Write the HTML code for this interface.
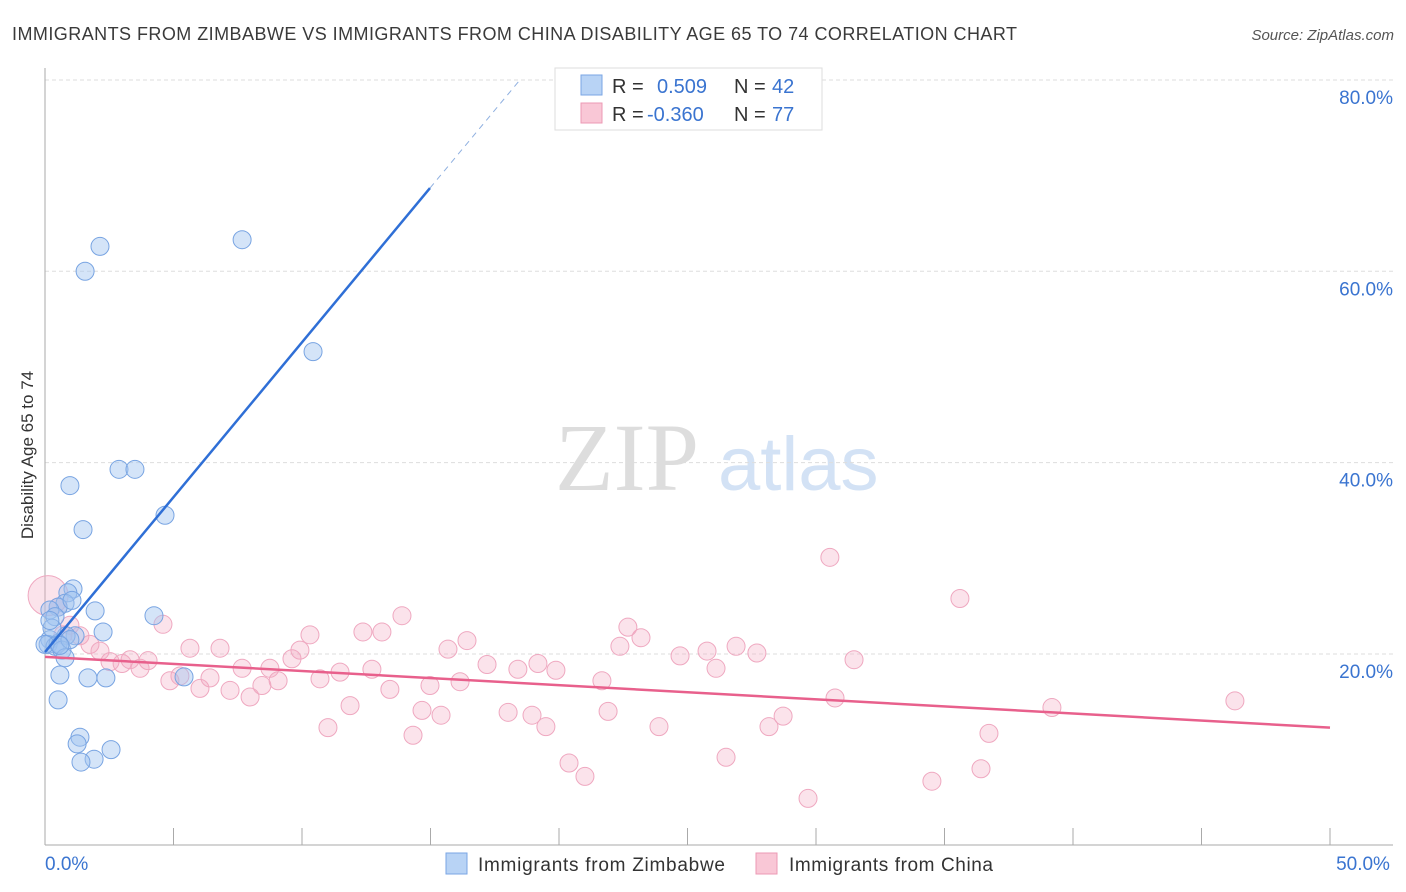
<!DOCTYPE html>
<html><head><meta charset="utf-8"><style>
body{margin:0;background:#fff;font-family:"Liberation Sans",sans-serif;}
#wrap{position:relative;width:1406px;height:892px;overflow:hidden}
</style></head><body>
<div id="wrap">
<svg id="chart" width="1406" height="892" xmlns="http://www.w3.org/2000/svg">
<text x="12" y="40" font-size="18" fill="#3a3a3a" textLength="1005">IMMIGRANTS FROM ZIMBABWE VS IMMIGRANTS FROM CHINA DISABILITY AGE 65 TO 74 CORRELATION CHART</text>
<text x="1394" y="40" font-size="15" fill="#555" font-style="italic" text-anchor="end">Source: ZipAtlas.com</text>
<g>
<text x="555" y="490" font-size="96" fill="#ddd" font-family="Liberation Serif,serif">ZIP</text>
<text x="718" y="490" font-size="76" fill="#d3e2f5">atlas</text>
</g>
<g id="grid"></g><g id="axes"></g><g id="pts"></g><g id="lines"></g>
<text transform="translate(33,455) rotate(-90)" font-size="17" fill="#333" text-anchor="middle">Disability Age 65 to 74</text>
<g>
<rect x="555" y="68" width="267" height="62" fill="#fff" stroke="#ddd"/>
<rect x="581" y="75" width="21" height="20" fill="#b8d3f5" stroke="#7aa6e4"/>
<rect x="581" y="103" width="21" height="20" fill="#f9c7d6" stroke="#ec9ab4"/>
<text x="612" y="93" font-size="20" fill="#333">R = <tspan x="657" fill="#3a74d0">0.509</tspan><tspan x="734" fill="#333">N = </tspan><tspan x="772" fill="#3a74d0">42</tspan></text>
<text x="612" y="121" font-size="20" fill="#333">R = <tspan x="647" fill="#3a74d0">-0.360</tspan><tspan x="734" fill="#333">N = </tspan><tspan x="772" fill="#3a74d0">77</tspan></text>
</g>
<g>
<rect x="446" y="853" width="21" height="21" fill="#b8d3f5" stroke="#7aa6e4"/>
<text x="478" y="871" font-size="19" fill="#333" textLength="247">Immigrants from Zimbabwe</text>
<rect x="756" y="853" width="21" height="21" fill="#f9c7d6" stroke="#ec9ab4"/>
<text x="789" y="871" font-size="19" fill="#333" textLength="204">Immigrants from China</text>
</g>
</svg>
</div>
<script>
const yTicks=[20,40,60,80];
const yTickLabels=["20.0%","40.0%","60.0%","80.0%"];
const xTicks=[0,5,10,15,20,25,30,35,40,45,50];
const xEndLabels=["0.0%","50.0%"];
const zimX=[2.14,1.56,7.67,10.43,2.88,3.50,0.97,1.48,4.67,4.24,1.09,0.89,0.78,0.51,1.95,0.19,0.39,2.26,1.17,0.82,0.19,0.12,0.39,0.51,0.66,0.78,0.58,1.67,2.37,5.41,0.51,1.36,1.25,2.57,1.91,1.40,0.27,0.97,0.0,0.58,0.19,1.05];
const zimY=[62.6,60.0,63.3,51.6,39.3,39.3,37.6,33.0,34.5,24.0,26.8,26.4,25.3,24.9,24.5,24.6,23.9,22.3,21.9,21.9,21.5,21.0,20.8,21.1,20.4,19.6,17.8,17.5,17.5,17.6,15.2,11.3,10.6,10.0,9.0,8.7,22.7,21.5,21.0,20.9,23.5,25.6];
const chnX=[0.12,0.51,0.97,1.36,1.75,2.14,2.53,3.00,3.31,3.70,4.01,4.59,4.86,5.25,5.64,6.03,6.42,6.81,7.20,7.67,7.98,8.44,8.75,9.07,9.61,9.92,10.31,10.70,11.01,11.48,11.87,12.37,12.72,13.11,13.42,13.89,14.32,14.67,14.98,15.41,15.68,16.15,16.42,17.20,18.02,18.40,18.95,19.18,19.49,19.88,20.39,21.01,21.67,21.91,22.37,22.68,23.19,23.89,24.71,25.76,26.11,26.50,26.89,27.70,28.17,28.72,29.69,30.54,30.74,31.48,34.51,35.60,36.42,36.73,39.18,46.30,0.70];
const chnY=[26.1,24.9,23.0,21.9,21.0,20.3,19.2,19.0,19.4,18.5,19.3,23.1,17.2,17.7,20.6,16.4,17.5,20.6,16.2,18.5,15.5,16.7,18.5,17.2,19.5,20.4,22.0,17.4,12.3,18.1,14.6,22.3,18.4,22.3,16.3,24.0,11.5,14.1,16.7,13.6,20.5,17.1,21.4,18.9,13.9,18.4,13.6,19.0,12.4,18.3,8.6,7.2,17.2,14.0,20.8,22.8,21.7,12.4,19.8,20.3,18.5,9.2,20.8,20.1,12.4,13.5,4.9,30.1,15.4,19.4,6.7,25.8,8.0,11.7,14.4,15.1,22.0];
const zimTrend=[0,20.2,14.98,68.7,18.48,80.0];
const chnTrend=[0,19.7,50,12.3];
const NS="http://www.w3.org/2000/svg";
const X=v=>45+v*25.7;
const Y=v=>845.3-v*9.567;
function mk(tag,attrs,parent){const e=document.createElementNS(NS,tag);for(const k in attrs)e.setAttribute(k,attrs[k]);document.getElementById(parent).appendChild(e);return e;}
yTicks.forEach((t,i)=>{
 const l=mk('line',{x1:45,x2:1393,y1:Y(t),y2:Y(t),stroke:'#ddd','stroke-dasharray':'4,3'},'grid');
 
 
 const tx=mk('text',{x:1393,y:Y(t)+24,'font-size':19,fill:'#3a74d0','text-anchor':'end'},'grid');
 tx.textContent=yTickLabels[i];
 
 
});
const ax=mk('line',{x1:45,x2:45,y1:68,y2:845,stroke:'#aaa'},'axes');


const bx=mk('line',{x1:45,x2:1393,y1:845,y2:845,stroke:'#aaa'},'axes');


xTicks.forEach(t=>{
 const l=mk('line',{x1:X(t),x2:X(t),y1:828,y2:845,stroke:'#aaa'},'axes');
 
 
});
[[xTicks[0],'start',xEndLabels[0]],[xTicks[xTicks.length-1],'middle',xEndLabels[1]]].forEach(([v,a,s])=>{
 const tx=mk('text',{x:a==='start'?X(v):X(v)+33,y:870,'font-size':19,fill:'#3a74d0','text-anchor':a},'axes');
 tx.textContent=s;
 
 
});
chnX.forEach((x,i)=>{
 const c=mk('circle',{cx:X(x),cy:Y(chnY[i]),r:i===0?20:9,fill:'rgba(244,168,194,0.32)',stroke:'#efa8c0','stroke-width':1},'pts');
 
 
});
zimX.forEach((x,i)=>{
 const c=mk('circle',{cx:X(x),cy:Y(zimY[i]),r:9,fill:'rgba(160,196,240,0.45)',stroke:'#78a4e2','stroke-width':1},'pts');
 
 
});
const z1=mk('line',{x1:X(zimTrend[0]),y1:Y(zimTrend[1]),x2:X(zimTrend[2]),y2:Y(zimTrend[3]),stroke:'#2f6fd6','stroke-width':2.5},'lines');


const z2=mk('line',{x1:X(zimTrend[2]),y1:Y(zimTrend[3]),x2:X(zimTrend[4]),y2:Y(zimTrend[5]),stroke:'#8fb0e0','stroke-width':1,'stroke-dasharray':'6,5'},'lines');


const c1=mk('line',{x1:X(chnTrend[0]),y1:Y(chnTrend[1]),x2:X(chnTrend[2]),y2:Y(chnTrend[3]),stroke:'#e8608c','stroke-width':2.5},'lines');


</script>
</body></html>
